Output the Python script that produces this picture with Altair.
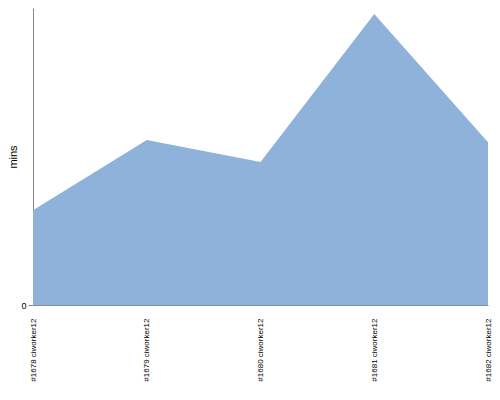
import altair as alt
import pandas as pd

builds = ["#1678 ciworker12", "#1679 ciworker12", "#1680 ciworker12", "#1681 ciworker12", "#1682 ciworker12"]
mins = [3.11, 5.41, 4.69, 9.54, 5.34]

df = pd.DataFrame({"build": builds, "mins": mins})

chart = alt.Chart(df).mark_area(color="#8fb2db", opacity=1).encode(
    x=alt.X("build:N", sort=builds, scale=alt.Scale(type="point", padding=0),
            axis=alt.Axis(title=None, labelAngle=-90, labelFontSize=8, labelFont="Liberation Sans",
                          labelColor="#000", ticks=False, domainColor="#7f8fa6", labelPadding=13,
                          labelLimit=200)),
    y=alt.Y("mins:Q", scale=alt.Scale(domain=[0, 9.74], nice=False),
            axis=alt.Axis(values=[0], title="mins", titleFontSize=11, titleFontWeight="normal",
                          titleFont="Liberation Sans", titleColor="#000", labelFontSize=9,
                          labelFont="Liberation Sans", labelColor="#000", grid=False,
                          domainColor="#888", tickColor="#888", tickSize=5, titlePadding=2)),
).properties(
    width=455, height=297,
    autosize="none",
    padding={"left": 25, "top": 0, "right": 4, "bottom": 83},
).configure_view(stroke=None)

chart.save("out.html", embed_options={"renderer": "svg", "actions": False})
